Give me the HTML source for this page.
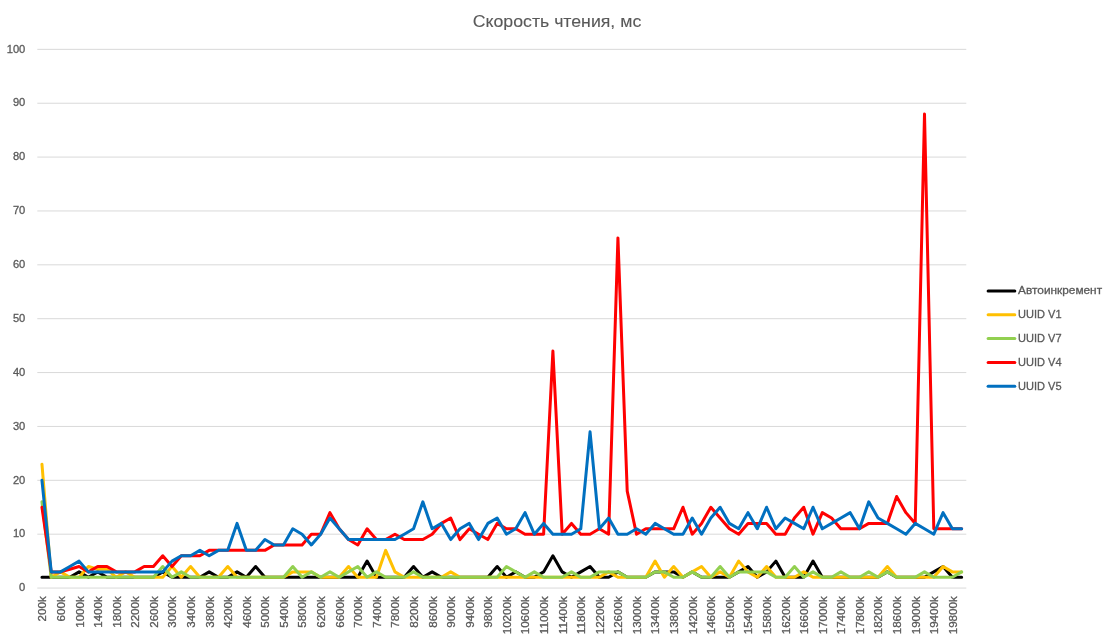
<!DOCTYPE html>
<html lang="ru"><head><meta charset="utf-8"><title>Скорость чтения, мс</title>
<style>html,body{margin:0;padding:0;background:#fff}svg{display:block}text{font-family:"Liberation Sans",sans-serif;fill:#595959;stroke:#595959;stroke-width:0.3px}</style></head><body>
<svg width="1116" height="640" viewBox="0 0 1116 640">
<rect width="1116" height="640" fill="#fff"/>
<g opacity="0.999">
<line x1="37.3" y1="588.05" x2="966.3" y2="588.05" stroke="#d9d9d9" stroke-width="1"/>
<line x1="37.3" y1="534.18" x2="966.3" y2="534.18" stroke="#d9d9d9" stroke-width="1"/>
<line x1="37.3" y1="480.31" x2="966.3" y2="480.31" stroke="#d9d9d9" stroke-width="1"/>
<line x1="37.3" y1="426.44" x2="966.3" y2="426.44" stroke="#d9d9d9" stroke-width="1"/>
<line x1="37.3" y1="372.57" x2="966.3" y2="372.57" stroke="#d9d9d9" stroke-width="1"/>
<line x1="37.3" y1="318.70" x2="966.3" y2="318.70" stroke="#d9d9d9" stroke-width="1"/>
<line x1="37.3" y1="264.83" x2="966.3" y2="264.83" stroke="#d9d9d9" stroke-width="1"/>
<line x1="37.3" y1="210.96" x2="966.3" y2="210.96" stroke="#d9d9d9" stroke-width="1"/>
<line x1="37.3" y1="157.09" x2="966.3" y2="157.09" stroke="#d9d9d9" stroke-width="1"/>
<line x1="37.3" y1="103.22" x2="966.3" y2="103.22" stroke="#d9d9d9" stroke-width="1"/>
<line x1="37.3" y1="49.35" x2="966.3" y2="49.35" stroke="#d9d9d9" stroke-width="1"/>
<text x="25.3" y="591.25" font-size="11.5" text-anchor="end" textLength="6.2" lengthAdjust="spacingAndGlyphs">0</text>
<text x="25.3" y="537.38" font-size="11.5" text-anchor="end" textLength="12.4" lengthAdjust="spacingAndGlyphs">10</text>
<text x="25.3" y="483.51" font-size="11.5" text-anchor="end" textLength="12.4" lengthAdjust="spacingAndGlyphs">20</text>
<text x="25.3" y="429.64" font-size="11.5" text-anchor="end" textLength="12.4" lengthAdjust="spacingAndGlyphs">30</text>
<text x="25.3" y="375.77" font-size="11.5" text-anchor="end" textLength="12.4" lengthAdjust="spacingAndGlyphs">40</text>
<text x="25.3" y="321.90" font-size="11.5" text-anchor="end" textLength="12.4" lengthAdjust="spacingAndGlyphs">50</text>
<text x="25.3" y="268.03" font-size="11.5" text-anchor="end" textLength="12.4" lengthAdjust="spacingAndGlyphs">60</text>
<text x="25.3" y="214.16" font-size="11.5" text-anchor="end" textLength="12.4" lengthAdjust="spacingAndGlyphs">70</text>
<text x="25.3" y="160.29" font-size="11.5" text-anchor="end" textLength="12.4" lengthAdjust="spacingAndGlyphs">80</text>
<text x="25.3" y="106.42" font-size="11.5" text-anchor="end" textLength="12.4" lengthAdjust="spacingAndGlyphs">90</text>
<text x="25.3" y="52.55" font-size="11.5" text-anchor="end" textLength="18.6" lengthAdjust="spacingAndGlyphs">100</text>
<polyline points="41.95,577.28 51.24,577.28 60.53,577.28 69.82,577.28 79.11,571.89 88.40,577.28 97.69,571.89 106.98,577.28 116.27,577.28 125.56,577.28 134.85,577.28 144.14,577.28 153.43,577.28 162.72,571.89 172.01,577.28 181.30,577.28 190.59,577.28 199.88,577.28 209.17,571.89 218.46,577.28 227.75,577.28 237.04,571.89 246.33,577.28 255.62,566.50 264.91,577.28 274.20,577.28 283.49,577.28 292.78,577.28 302.07,577.28 311.36,577.28 320.65,577.28 329.94,577.28 339.23,577.28 348.52,577.28 357.81,577.28 367.10,561.12 376.39,577.28 385.68,577.28 394.97,577.28 404.26,577.28 413.55,566.50 422.84,577.28 432.13,571.89 441.42,577.28 450.71,577.28 460.00,577.28 469.29,577.28 478.58,577.28 487.87,577.28 497.16,566.50 506.45,577.28 515.74,571.89 525.03,577.28 534.32,577.28 543.61,571.89 552.90,555.73 562.19,571.89 571.48,577.28 580.77,571.89 590.06,566.50 599.35,577.28 608.64,577.28 617.93,571.89 627.22,577.28 636.51,577.28 645.80,577.28 655.09,571.89 664.38,571.89 673.67,571.89 682.96,577.28 692.25,571.89 701.54,577.28 710.83,577.28 720.12,577.28 729.41,577.28 738.70,571.89 747.99,566.50 757.28,577.28 766.57,571.89 775.86,561.12 785.15,577.28 794.44,577.28 803.73,577.28 813.02,561.12 822.31,577.28 831.60,577.28 840.89,577.28 850.18,577.28 859.47,577.28 868.76,577.28 878.05,577.28 887.34,571.89 896.63,577.28 905.92,577.28 915.21,577.28 924.50,577.28 933.79,571.89 943.08,566.50 952.37,577.28 961.66,577.28" fill="none" stroke="#000000" stroke-width="3" stroke-linejoin="round" stroke-linecap="round"/>
<polyline points="41.95,464.15 51.24,577.28 60.53,571.89 69.82,577.28 79.11,577.28 88.40,566.50 97.69,569.20 106.98,569.20 116.27,577.28 125.56,571.89 134.85,577.28 144.14,577.28 153.43,577.28 162.72,577.28 172.01,566.50 181.30,577.28 190.59,566.50 199.88,577.28 209.17,577.28 218.46,577.28 227.75,566.50 237.04,577.28 246.33,577.28 255.62,577.28 264.91,577.28 274.20,577.28 283.49,577.28 292.78,571.89 302.07,571.89 311.36,571.89 320.65,577.28 329.94,577.28 339.23,577.28 348.52,566.50 357.81,577.28 367.10,577.28 376.39,577.28 385.68,550.34 394.97,571.89 404.26,577.28 413.55,577.28 422.84,577.28 432.13,577.28 441.42,577.28 450.71,571.89 460.00,577.28 469.29,577.28 478.58,577.28 487.87,577.28 497.16,577.28 506.45,577.28 515.74,577.28 525.03,577.28 534.32,577.28 543.61,577.28 552.90,577.28 562.19,577.28 571.48,577.28 580.77,577.28 590.06,577.28 599.35,577.28 608.64,571.89 617.93,577.28 627.22,577.28 636.51,577.28 645.80,577.28 655.09,561.12 664.38,577.28 673.67,566.50 682.96,577.28 692.25,571.89 701.54,566.50 710.83,577.28 720.12,571.89 729.41,577.28 738.70,561.12 747.99,571.89 757.28,577.28 766.57,566.50 775.86,577.28 785.15,577.28 794.44,577.28 803.73,571.89 813.02,577.28 822.31,577.28 831.60,577.28 840.89,577.28 850.18,577.28 859.47,577.28 868.76,577.28 878.05,577.28 887.34,566.50 896.63,577.28 905.92,577.28 915.21,577.28 924.50,577.28 933.79,577.28 943.08,566.50 952.37,571.89 961.66,571.89" fill="none" stroke="#ffc000" stroke-width="3" stroke-linejoin="round" stroke-linecap="round"/>
<polyline points="41.95,501.86 51.24,577.28 60.53,577.28 69.82,577.28 79.11,577.28 88.40,577.28 97.69,577.28 106.98,577.28 116.27,577.28 125.56,577.28 134.85,577.28 144.14,577.28 153.43,577.28 162.72,566.50 172.01,577.28 181.30,571.89 190.59,577.28 199.88,577.28 209.17,577.28 218.46,577.28 227.75,577.28 237.04,577.28 246.33,577.28 255.62,577.28 264.91,577.28 274.20,577.28 283.49,577.28 292.78,566.50 302.07,577.28 311.36,571.89 320.65,577.28 329.94,571.89 339.23,577.28 348.52,571.89 357.81,566.50 367.10,577.28 376.39,571.89 385.68,577.28 394.97,577.28 404.26,577.28 413.55,571.89 422.84,577.28 432.13,577.28 441.42,577.28 450.71,577.28 460.00,577.28 469.29,577.28 478.58,577.28 487.87,577.28 497.16,577.28 506.45,566.50 515.74,571.89 525.03,577.28 534.32,571.89 543.61,577.28 552.90,577.28 562.19,577.28 571.48,571.89 580.77,577.28 590.06,577.28 599.35,571.89 608.64,571.89 617.93,571.89 627.22,577.28 636.51,577.28 645.80,577.28 655.09,571.89 664.38,571.89 673.67,577.28 682.96,577.28 692.25,571.89 701.54,577.28 710.83,577.28 720.12,566.50 729.41,577.28 738.70,571.89 747.99,571.89 757.28,571.89 766.57,571.89 775.86,577.28 785.15,577.28 794.44,566.50 803.73,577.28 813.02,571.89 822.31,577.28 831.60,577.28 840.89,571.89 850.18,577.28 859.47,577.28 868.76,571.89 878.05,577.28 887.34,571.89 896.63,577.28 905.92,577.28 915.21,577.28 924.50,571.89 933.79,577.28 943.08,577.28 952.37,577.28 961.66,571.89" fill="none" stroke="#92d050" stroke-width="3" stroke-linejoin="round" stroke-linecap="round"/>
<polyline points="41.95,507.24 51.24,571.89 60.53,571.89 69.82,569.20 79.11,566.50 88.40,571.89 97.69,566.50 106.98,566.50 116.27,571.89 125.56,571.89 134.85,571.89 144.14,566.50 153.43,566.50 162.72,555.73 172.01,566.50 181.30,555.73 190.59,555.73 199.88,555.73 209.17,550.34 218.46,550.34 227.75,550.34 237.04,550.34 246.33,550.34 255.62,550.34 264.91,550.34 274.20,544.95 283.49,544.95 292.78,544.95 302.07,544.95 311.36,534.18 320.65,534.18 329.94,512.63 339.23,528.79 348.52,539.57 357.81,544.95 367.10,528.79 376.39,539.57 385.68,539.57 394.97,534.18 404.26,539.57 413.55,539.57 422.84,539.57 432.13,534.18 441.42,523.41 450.71,518.02 460.00,539.57 469.29,528.79 478.58,534.18 487.87,539.57 497.16,523.41 506.45,528.79 515.74,528.79 525.03,534.18 534.32,534.18 543.61,534.18 552.90,351.02 562.19,534.18 571.48,523.41 580.77,534.18 590.06,534.18 599.35,528.79 608.64,534.18 617.93,237.89 627.22,491.08 636.51,534.18 645.80,528.79 655.09,528.79 664.38,528.79 673.67,528.79 682.96,507.24 692.25,534.18 701.54,523.41 710.83,507.24 720.12,518.02 729.41,528.79 738.70,534.18 747.99,523.41 757.28,523.41 766.57,523.41 775.86,534.18 785.15,534.18 794.44,518.02 803.73,507.24 813.02,534.18 822.31,512.63 831.60,518.02 840.89,528.79 850.18,528.79 859.47,528.79 868.76,523.41 878.05,523.41 887.34,523.41 896.63,496.47 905.92,512.63 915.21,523.41 924.50,113.99 933.79,528.79 943.08,528.79 952.37,528.79 961.66,528.79" fill="none" stroke="#ff0000" stroke-width="3" stroke-linejoin="round" stroke-linecap="round"/>
<polyline points="41.95,480.31 51.24,571.89 60.53,571.89 69.82,566.50 79.11,561.12 88.40,571.89 97.69,571.89 106.98,571.89 116.27,571.89 125.56,571.89 134.85,571.89 144.14,571.89 153.43,571.89 162.72,571.89 172.01,561.12 181.30,555.73 190.59,555.73 199.88,550.34 209.17,555.73 218.46,550.34 227.75,550.34 237.04,523.41 246.33,550.34 255.62,550.34 264.91,539.57 274.20,544.95 283.49,544.95 292.78,528.79 302.07,534.18 311.36,544.95 320.65,534.18 329.94,518.02 339.23,528.79 348.52,539.57 357.81,539.57 367.10,539.57 376.39,539.57 385.68,539.57 394.97,539.57 404.26,534.18 413.55,528.79 422.84,501.86 432.13,528.79 441.42,523.41 450.71,539.57 460.00,528.79 469.29,523.41 478.58,539.57 487.87,523.41 497.16,518.02 506.45,534.18 515.74,528.79 525.03,512.63 534.32,534.18 543.61,523.41 552.90,534.18 562.19,534.18 571.48,534.18 580.77,528.79 590.06,431.83 599.35,528.79 608.64,518.02 617.93,534.18 627.22,534.18 636.51,528.79 645.80,534.18 655.09,523.41 664.38,528.79 673.67,534.18 682.96,534.18 692.25,518.02 701.54,534.18 710.83,518.02 720.12,507.24 729.41,523.41 738.70,528.79 747.99,512.63 757.28,528.79 766.57,507.24 775.86,528.79 785.15,518.02 794.44,523.41 803.73,528.79 813.02,507.24 822.31,528.79 831.60,523.41 840.89,518.02 850.18,512.63 859.47,528.79 868.76,501.86 878.05,518.02 887.34,523.41 896.63,528.79 905.92,534.18 915.21,523.41 924.50,528.79 933.79,534.18 943.08,512.63 952.37,528.79 961.66,528.79" fill="none" stroke="#0070c0" stroke-width="3" stroke-linejoin="round" stroke-linecap="round"/>
<text transform="translate(46.35,596.3) rotate(-90)" font-size="11.6" text-anchor="end" textLength="25.1" lengthAdjust="spacingAndGlyphs">200k</text>
<text transform="translate(64.93,596.3) rotate(-90)" font-size="11.6" text-anchor="end" textLength="25.1" lengthAdjust="spacingAndGlyphs">600k</text>
<text transform="translate(83.51,596.3) rotate(-90)" font-size="11.6" text-anchor="end" textLength="31.5" lengthAdjust="spacingAndGlyphs">1000k</text>
<text transform="translate(102.09,596.3) rotate(-90)" font-size="11.6" text-anchor="end" textLength="31.5" lengthAdjust="spacingAndGlyphs">1400k</text>
<text transform="translate(120.67,596.3) rotate(-90)" font-size="11.6" text-anchor="end" textLength="31.5" lengthAdjust="spacingAndGlyphs">1800k</text>
<text transform="translate(139.25,596.3) rotate(-90)" font-size="11.6" text-anchor="end" textLength="31.5" lengthAdjust="spacingAndGlyphs">2200k</text>
<text transform="translate(157.83,596.3) rotate(-90)" font-size="11.6" text-anchor="end" textLength="31.5" lengthAdjust="spacingAndGlyphs">2600k</text>
<text transform="translate(176.41,596.3) rotate(-90)" font-size="11.6" text-anchor="end" textLength="31.5" lengthAdjust="spacingAndGlyphs">3000k</text>
<text transform="translate(194.99,596.3) rotate(-90)" font-size="11.6" text-anchor="end" textLength="31.5" lengthAdjust="spacingAndGlyphs">3400k</text>
<text transform="translate(213.57,596.3) rotate(-90)" font-size="11.6" text-anchor="end" textLength="31.5" lengthAdjust="spacingAndGlyphs">3800k</text>
<text transform="translate(232.15,596.3) rotate(-90)" font-size="11.6" text-anchor="end" textLength="31.5" lengthAdjust="spacingAndGlyphs">4200k</text>
<text transform="translate(250.73,596.3) rotate(-90)" font-size="11.6" text-anchor="end" textLength="31.5" lengthAdjust="spacingAndGlyphs">4600k</text>
<text transform="translate(269.31,596.3) rotate(-90)" font-size="11.6" text-anchor="end" textLength="31.5" lengthAdjust="spacingAndGlyphs">5000k</text>
<text transform="translate(287.89,596.3) rotate(-90)" font-size="11.6" text-anchor="end" textLength="31.5" lengthAdjust="spacingAndGlyphs">5400k</text>
<text transform="translate(306.47,596.3) rotate(-90)" font-size="11.6" text-anchor="end" textLength="31.5" lengthAdjust="spacingAndGlyphs">5800k</text>
<text transform="translate(325.05,596.3) rotate(-90)" font-size="11.6" text-anchor="end" textLength="31.5" lengthAdjust="spacingAndGlyphs">6200k</text>
<text transform="translate(343.63,596.3) rotate(-90)" font-size="11.6" text-anchor="end" textLength="31.5" lengthAdjust="spacingAndGlyphs">6600k</text>
<text transform="translate(362.21,596.3) rotate(-90)" font-size="11.6" text-anchor="end" textLength="31.5" lengthAdjust="spacingAndGlyphs">7000k</text>
<text transform="translate(380.79,596.3) rotate(-90)" font-size="11.6" text-anchor="end" textLength="31.5" lengthAdjust="spacingAndGlyphs">7400k</text>
<text transform="translate(399.37,596.3) rotate(-90)" font-size="11.6" text-anchor="end" textLength="31.5" lengthAdjust="spacingAndGlyphs">7800k</text>
<text transform="translate(417.95,596.3) rotate(-90)" font-size="11.6" text-anchor="end" textLength="31.5" lengthAdjust="spacingAndGlyphs">8200k</text>
<text transform="translate(436.53,596.3) rotate(-90)" font-size="11.6" text-anchor="end" textLength="31.5" lengthAdjust="spacingAndGlyphs">8600k</text>
<text transform="translate(455.11,596.3) rotate(-90)" font-size="11.6" text-anchor="end" textLength="31.5" lengthAdjust="spacingAndGlyphs">9000k</text>
<text transform="translate(473.69,596.3) rotate(-90)" font-size="11.6" text-anchor="end" textLength="31.5" lengthAdjust="spacingAndGlyphs">9400k</text>
<text transform="translate(492.27,596.3) rotate(-90)" font-size="11.6" text-anchor="end" textLength="31.5" lengthAdjust="spacingAndGlyphs">9800k</text>
<text transform="translate(510.85,596.3) rotate(-90)" font-size="11.6" text-anchor="end" textLength="38.0" lengthAdjust="spacingAndGlyphs">10200k</text>
<text transform="translate(529.43,596.3) rotate(-90)" font-size="11.6" text-anchor="end" textLength="38.0" lengthAdjust="spacingAndGlyphs">10600k</text>
<text transform="translate(548.01,596.3) rotate(-90)" font-size="11.6" text-anchor="end" textLength="38.0" lengthAdjust="spacingAndGlyphs">11000k</text>
<text transform="translate(566.59,596.3) rotate(-90)" font-size="11.6" text-anchor="end" textLength="38.0" lengthAdjust="spacingAndGlyphs">11400k</text>
<text transform="translate(585.17,596.3) rotate(-90)" font-size="11.6" text-anchor="end" textLength="38.0" lengthAdjust="spacingAndGlyphs">11800k</text>
<text transform="translate(603.75,596.3) rotate(-90)" font-size="11.6" text-anchor="end" textLength="38.0" lengthAdjust="spacingAndGlyphs">12200k</text>
<text transform="translate(622.33,596.3) rotate(-90)" font-size="11.6" text-anchor="end" textLength="38.0" lengthAdjust="spacingAndGlyphs">12600k</text>
<text transform="translate(640.91,596.3) rotate(-90)" font-size="11.6" text-anchor="end" textLength="38.0" lengthAdjust="spacingAndGlyphs">13000k</text>
<text transform="translate(659.49,596.3) rotate(-90)" font-size="11.6" text-anchor="end" textLength="38.0" lengthAdjust="spacingAndGlyphs">13400k</text>
<text transform="translate(678.07,596.3) rotate(-90)" font-size="11.6" text-anchor="end" textLength="38.0" lengthAdjust="spacingAndGlyphs">13800k</text>
<text transform="translate(696.65,596.3) rotate(-90)" font-size="11.6" text-anchor="end" textLength="38.0" lengthAdjust="spacingAndGlyphs">14200k</text>
<text transform="translate(715.23,596.3) rotate(-90)" font-size="11.6" text-anchor="end" textLength="38.0" lengthAdjust="spacingAndGlyphs">14600k</text>
<text transform="translate(733.81,596.3) rotate(-90)" font-size="11.6" text-anchor="end" textLength="38.0" lengthAdjust="spacingAndGlyphs">15000k</text>
<text transform="translate(752.39,596.3) rotate(-90)" font-size="11.6" text-anchor="end" textLength="38.0" lengthAdjust="spacingAndGlyphs">15400k</text>
<text transform="translate(770.97,596.3) rotate(-90)" font-size="11.6" text-anchor="end" textLength="38.0" lengthAdjust="spacingAndGlyphs">15800k</text>
<text transform="translate(789.55,596.3) rotate(-90)" font-size="11.6" text-anchor="end" textLength="38.0" lengthAdjust="spacingAndGlyphs">16200k</text>
<text transform="translate(808.13,596.3) rotate(-90)" font-size="11.6" text-anchor="end" textLength="38.0" lengthAdjust="spacingAndGlyphs">16600k</text>
<text transform="translate(826.71,596.3) rotate(-90)" font-size="11.6" text-anchor="end" textLength="38.0" lengthAdjust="spacingAndGlyphs">17000k</text>
<text transform="translate(845.29,596.3) rotate(-90)" font-size="11.6" text-anchor="end" textLength="38.0" lengthAdjust="spacingAndGlyphs">17400k</text>
<text transform="translate(863.87,596.3) rotate(-90)" font-size="11.6" text-anchor="end" textLength="38.0" lengthAdjust="spacingAndGlyphs">17800k</text>
<text transform="translate(882.45,596.3) rotate(-90)" font-size="11.6" text-anchor="end" textLength="38.0" lengthAdjust="spacingAndGlyphs">18200k</text>
<text transform="translate(901.03,596.3) rotate(-90)" font-size="11.6" text-anchor="end" textLength="38.0" lengthAdjust="spacingAndGlyphs">18600k</text>
<text transform="translate(919.61,596.3) rotate(-90)" font-size="11.6" text-anchor="end" textLength="38.0" lengthAdjust="spacingAndGlyphs">19000k</text>
<text transform="translate(938.19,596.3) rotate(-90)" font-size="11.6" text-anchor="end" textLength="38.0" lengthAdjust="spacingAndGlyphs">19400k</text>
<text transform="translate(956.77,596.3) rotate(-90)" font-size="11.6" text-anchor="end" textLength="38.0" lengthAdjust="spacingAndGlyphs">19800k</text>
<text x="557" y="26.6" font-size="17.2" style="stroke-width:0.12px" text-anchor="middle" textLength="168.5" lengthAdjust="spacingAndGlyphs">Скорость чтения, мс</text>
<line x1="988.1" y1="290.90" x2="1014.8" y2="290.90" stroke="#000000" stroke-width="3" stroke-linecap="round"/>
<text x="1018.1" y="294.30" font-size="11.6" textLength="84.0" lengthAdjust="spacingAndGlyphs">Автоинкремент</text>
<line x1="988.1" y1="314.75" x2="1014.8" y2="314.75" stroke="#ffc000" stroke-width="3" stroke-linecap="round"/>
<text x="1018.1" y="318.15" font-size="11.6" textLength="43.5" lengthAdjust="spacingAndGlyphs">UUID V1</text>
<line x1="988.1" y1="338.60" x2="1014.8" y2="338.60" stroke="#92d050" stroke-width="3" stroke-linecap="round"/>
<text x="1018.1" y="342.00" font-size="11.6" textLength="43.5" lengthAdjust="spacingAndGlyphs">UUID V7</text>
<line x1="988.1" y1="362.45" x2="1014.8" y2="362.45" stroke="#ff0000" stroke-width="3" stroke-linecap="round"/>
<text x="1018.1" y="365.85" font-size="11.6" textLength="43.5" lengthAdjust="spacingAndGlyphs">UUID V4</text>
<line x1="988.1" y1="386.30" x2="1014.8" y2="386.30" stroke="#0070c0" stroke-width="3" stroke-linecap="round"/>
<text x="1018.1" y="389.70" font-size="11.6" textLength="43.5" lengthAdjust="spacingAndGlyphs">UUID V5</text>
</g>
</svg></body></html>
